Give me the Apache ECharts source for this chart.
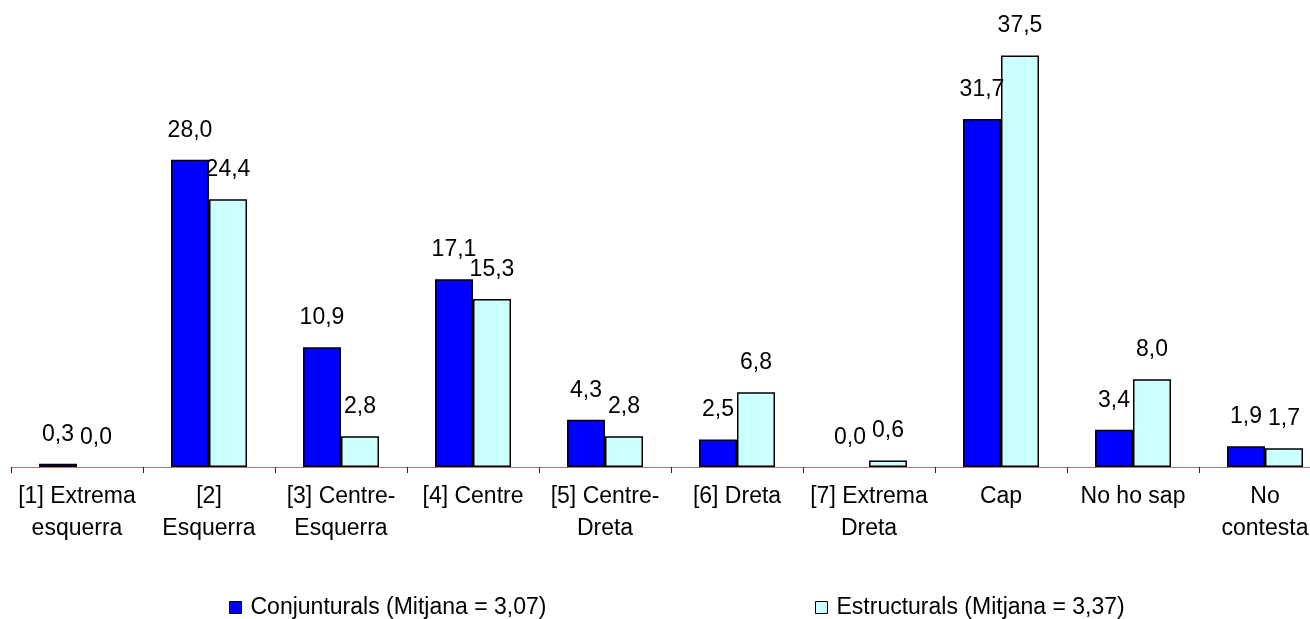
<!DOCTYPE html>
<html>
<head>
<meta charset="utf-8">
<script src="https://cdn.jsdelivr.net/npm/echarts@6/dist/echarts.min.js"></script>
<style>
html,body{margin:0;padding:0;background:#fff;}
#chart{width:1310px;height:619px;}
</style>
</head>
<body>
<div id="chart"></div>
<script>
const categories = [
  "[1] Extrema\nesquerra", "[2]\nEsquerra", "[3] Centre-\nEsquerra", "[4] Centre",
  "[5] Centre-\nDreta", "[6] Dreta", "[7] Extrema\nDreta", "Cap", "No ho sap", "No\ncontesta"
];
const seriesNames = ["Conjunturals (Mitjana = 3,07)", "Estructurals (Mitjana = 3,37)"];
const conjunturals = [0.3, 28.0, 10.9, 17.1, 4.3, 2.5, 0.0, 31.7, 3.4, 1.9];
const estructurals = [0.0, 24.4, 2.8, 15.3, 2.8, 6.8, 0.6, 37.5, 8.0, 1.7];

const FONT = "'Liberation Sans', Arial, sans-serif";
const FS = 23;
const chart = echarts.init(document.getElementById('chart'), null, {renderer: 'canvas'});

function fmt(p) { return p.value.toFixed(1).replace('.', ','); }
function toItems(arr) {
  return arr.map(v => v === 0 ? {value: v, itemStyle: {borderWidth: 0, opacity: 0}} : {value: v});
}

const labelCfg = {
  show: true, position: 'top', distance: 18, formatter: fmt,
  color: '#000', fontFamily: FONT, fontSize: FS, opacity: 1
};

chart.setOption({
  animation: false,
  backgroundColor: '#fff',
  grid: {left: 11, width: 1320, top: 28, bottom: 152, containLabel: false, outerBoundsMode: 'none'},
  legend: [
    {
      data: [seriesNames[0]], left: 229, top: 596, padding: 0, icon: 'rect', itemWidth: 12, itemHeight: 12,
      textStyle: {fontFamily: FONT, fontSize: FS, color: '#000', padding: [0, 0, 0, 4]},
      itemStyle: {borderColor: '#000', borderWidth: 1}
    },
    {
      data: [seriesNames[1]], left: 815, top: 596, padding: 0, icon: 'rect', itemWidth: 12, itemHeight: 12,
      textStyle: {fontFamily: FONT, fontSize: FS, color: '#000', padding: [0, 0, 0, 4]},
      itemStyle: {borderColor: '#000', borderWidth: 1}
    }
  ],
  xAxis: {
    type: 'category', data: categories, boundaryGap: true,
    axisLine: {show: true, lineStyle: {color: '#bb7777', width: 1}},
    axisTick: {show: true, inside: false, length: 6, lineStyle: {color: '#800000', width: 1}},
    axisLabel: {interval: 0, color: '#000', fontFamily: FONT, fontSize: FS, lineHeight: 32, margin: 14}
  },
  yAxis: {type: 'value', min: 0, max: 40, show: false, splitLine: {show: false}},
  series: [
    {
      name: seriesNames[0], type: 'bar', data: toItems(conjunturals), barWidth: 38, barGap: '0%',
      itemStyle: {color: '#0000ff', borderColor: '#000', borderWidth: 1.5},
      label: labelCfg
    },
    {
      name: seriesNames[1], type: 'bar', data: toItems(estructurals), barWidth: 38, barGap: '0%',
      itemStyle: {color: '#ccffff', borderColor: '#000', borderWidth: 1.5},
      label: labelCfg
    }
  ]
});
</script>
</body>
</html>
